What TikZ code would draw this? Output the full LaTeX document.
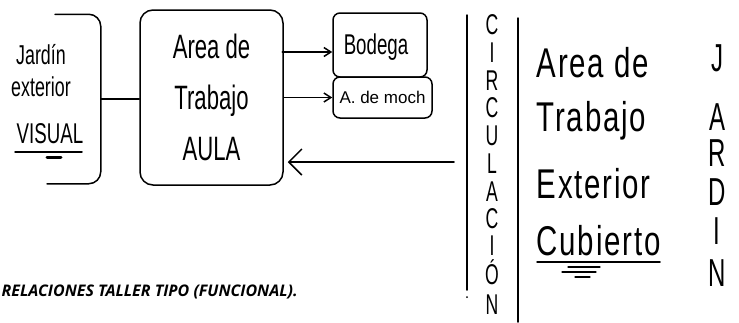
\documentclass[tikz,border=0pt]{standalone}
\usepackage{fontspec}
\usepackage{graphicx}
\setmainfont{Liberation Sans}
\newfontfamily\capfont{Open Sans}
\newfontfamily\handwide[LetterSpace=6]{Liberation Sans}
\usetikzlibrary{positioning, arrows.meta, calc}
\newcommand{\hw}[1]{\scalebox{0.85}[1.3]{#1}}
\newcommand{\hwr}[1]{\scalebox{0.92}[1.3]{#1}}
\newcommand{\hwv}[1]{\scalebox{0.8}[1.3]{#1}}

\begin{document}
\begin{tikzpicture}[
  x=1pt, y=-1pt,
  line width=1.5pt, line cap=round, line join=round,
  handbox/.style={draw, rounded corners=13pt},
  smallbox/.style={draw, rounded corners=7pt},
  hand/.style={align=center, inner sep=0pt},
  vletter/.style={inner sep=0pt, font=\fontsize{22}{22}\selectfont},
  arr/.style={-{Straight Barb[length=7pt, width=9pt]}},
  bigarr/.style={-{Straight Barb[length=13pt, width=26pt]}}
]
\useasboundingbox (0,0) rectangle (739,322);

% jardin exterior
\node[minimum width=88pt, minimum height=168pt, inner sep=0pt] (jardin) at (56,99) {};
\draw[rounded corners=12pt] ([xshift=-1pt]jardin.north) -- (jardin.north east) -- (jardin.south east) -- ([xshift=-9pt]jardin.south);
\node[hand, font=\fontsize{21}{32}\selectfont] (jardintxt) at (41,71) {\hw{Jardín}\\ \hw{exterior}};
\node[hand, font=\fontsize{22}{22}\selectfont] (visual) at (50,134) {\hw{VISUAL}};
\draw (15,152) -- (82,152);
\draw[line width=3pt] (47,157) -- (61,157);

% area de trabajo aula
\node[handbox, minimum width=143pt, minimum height=175pt] (aula) at (211.5,97.5) {};
\node[hand, font=\fontsize{26}{51}\selectfont] (aulatxt) at (aula.center) {\hw{Area de}\\ \hw{Trabajo}\\ \hw{AULA}};

% bodega y mochilas
\node[smallbox, minimum width=94pt, minimum height=64pt] (bodega) at (380,45) {};
\node[hand, font=\fontsize{22}{22}\selectfont] (bodegatxt) at (376,47) {\hw{Bodega}};
\node[smallbox, minimum width=99pt, minimum height=41pt] (moch) at (382.5,97.5) {};
\node[hand, font=\fontsize{17}{17}\selectfont] (mochtxt) at (moch.center) {A. de moch};

\draw (jardin.east) -- (aula.west |- jardin.east);
\draw[arr] ($(bodega.west)+(-50,7)$) -- ($(bodega.west)+(0,7)$);
\draw[arr] (aula.east |- moch.west) -- (moch.west);

% circulacion
\draw (467,15) -- (467,290);
\fill (467,297) circle (1pt);
\draw (518,18) -- (518,322);
\foreach \l/\yy [count=\i] in {C/25, I/53, R/81, C/108, U/136, L/164, A/192, C/219, I/246, Ó/272, N/305}
  \node[vletter] (circ\i) at (492,\yy) {\hwv{\l}};
\coordinate (circin) at (454,162);
\draw[bigarr] (circin) -- ([xshift=4pt]aula.east |- circin);

% area de trabajo exterior
\node[hand, anchor=west, font=\handwide\fontsize{32}{32}\selectfont] (exttxt) at (536,63) {\hwr{Area de}};
\node[hand, anchor=west, font=\handwide\fontsize{32}{32}\selectfont] (exttxt2) at (536,121) {\hwr{Trabajo}};
\node[hand, anchor=west, font=\handwide\fontsize{32}{32}\selectfont] (exttxt3) at (536,184) {\hwr{Exterior}};
\node[hand, anchor=west, font=\handwide\fontsize{32}{32}\selectfont] (cubierto) at (536,241) {\hwr{Cubierto}};
\draw (537,262) -- (660,262);
\draw[line width=1.2pt] (568,267) -- (600,267);
\draw[line width=1.2pt] (562,272) -- (596,272);
\draw[line width=1.2pt] (575,277) -- (590,277);

% jardin
\foreach \l/\yy [count=\i] in {J/58, A/117, R/153, D/192, I/231, N/273}
  \node[vletter, font=\fontsize{30}{30}\selectfont] (jar\i) at (717,\yy) {\hwv{\l}};

% titulo
\node[anchor=base west, inner sep=0pt, font=\capfont\bfseries\itshape\fontsize{16}{16}\selectfont] (titulo) at (1,296) {RELACIONES TALLER TIPO (FUNCIONAL).};
\end{tikzpicture}
\end{document}
